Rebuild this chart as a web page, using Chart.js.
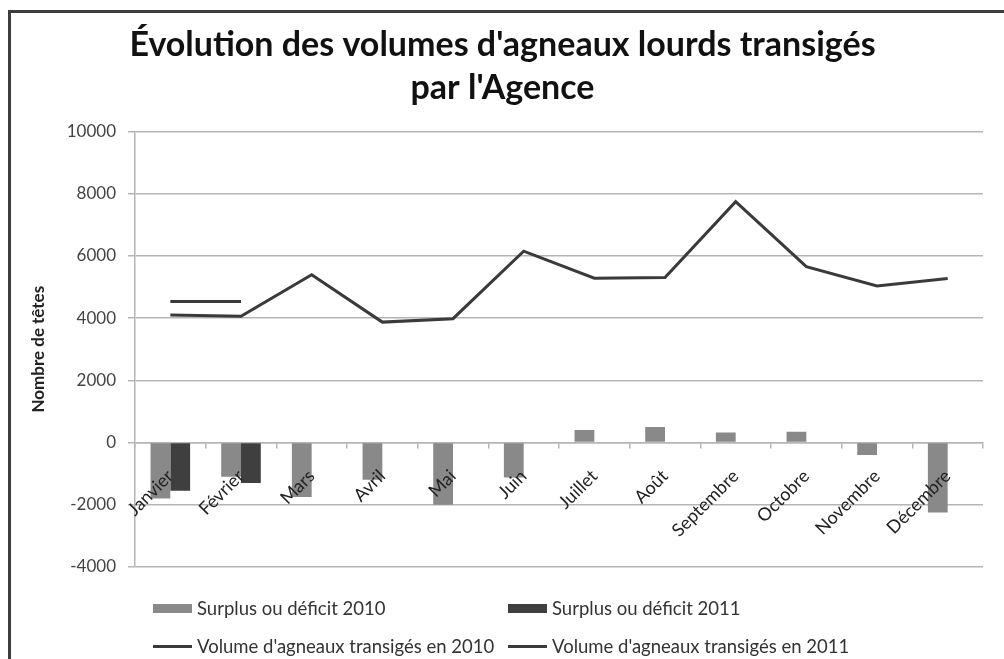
<!DOCTYPE html>
<html lang="fr">
<head>
<meta charset="utf-8">
<title>Évolution des volumes d'agneaux lourds transigés par l'Agence</title>
<script src="https://cdn.jsdelivr.net/npm/chart.js@4.4.1/dist/chart.umd.min.js"></script>
<style>
    html, body { margin: 0; padding: 0; background: #fff; }
    #wrap { position: relative; width: 1004px; height: 659px; overflow: hidden; font-family: Lato, sans-serif; }
    #frame { position: absolute; left: 8px; top: 10px; width: 1100px; height: 700px;
             border-top: 3px solid #3d3d3d; border-left: 3px solid #3d3d3d; }
    #chart { position: absolute; left: 0; top: 0; }
    #legend { position: absolute; left: 153px; top: 597px; display: grid;
              grid-template-columns: 355px auto; row-gap: 16px; font-size: 18.5px; color: #333; }
    .item { display: flex; align-items: center; height: 22px; white-space: nowrap; }
    .swatch { width: 39px; margin-right: 5px; }
</style>
</head>
<body>
<div id="wrap">
    <div id="frame"></div>
    <canvas id="chart" width="1004" height="659"></canvas>
    <div id="legend"></div>
</div>
<script>
// données
const mois = ['Janvier', 'Février', 'Mars', 'Avril', 'Mai', 'Juin', 'Juillet', 'Août',
              'Septembre', 'Octobre', 'Novembre', 'Décembre'];
const surplus2010 = [-1800, -1100, -1750, -1200, -2000, -1120, 400, 500, 320, 350, -400, -2250];
const surplus2011 = [-1550, -1300, null, null, null, null, null, null, null, null, null, null];
const volume2010 = [4100, 4060, 5390, 3870, 3980, 6150, 5280, 5300, 7740, 5650, 5030, 5270];
const volume2011 = [4530, 4530, null, null, null, null, null, null, null, null, null, null];
const yTicks = [-4000, -2000, 0, 2000, 4000, 6000, 8000, 10000];

const gris = '#b5b5b5';

const datasets = [
    { type: 'bar', label: 'Surplus ou déficit 2010', data: surplus2010, backgroundColor: '#898989', order: 2 },
    { type: 'bar', label: 'Surplus ou déficit 2011', data: surplus2011, backgroundColor: '#3f3f3f', order: 2 },
    { type: 'line', label: "Volume d'agneaux transigés en 2010", data: volume2010,
      borderColor: '#3a3a3a', borderWidth: 3, pointRadius: 0, tension: 0, order: 1 },
    { type: 'line', label: "Volume d'agneaux transigés en 2011", data: volume2011,
      borderColor: '#3a3a3a', borderWidth: 3, pointRadius: 0, tension: 0, order: 1 }
];

const chart = new Chart(document.getElementById('chart'), {
    type: 'bar',
    data: { labels: mois, datasets: datasets },
    options: {
        responsive: false,
        animation: false,
        layout: { padding: { top: 23, left: 22, right: 21, bottom: 92 } },
        datasets: { bar: { categoryPercentage: 0.56, barPercentage: 1 } },
        plugins: {
            legend: { display: false },
            tooltip: { enabled: false },
            title: {
                display: true,
                text: ["Évolution des volumes d'agneaux lourds transigés", "par l'Agence"],
                color: '#111',
                font: { family: 'Lato', size: 34, weight: 'bold', lineHeight: 1.27 },
                padding: { top: 0, bottom: 22 }
            }
        },
        scales: {
            x: {
                position: { y: 0 },
                offset: true,
                grid: { offset: true, drawOnChartArea: false, tickLength: 5, color: gris, lineWidth: 1.5 },
                border: { color: gris, width: 1.5 },
                ticks: {
                    z: 1, // étiquettes par-dessus les barres
                    minRotation: 45, maxRotation: 45, autoSkip: false, padding: 18,
                    color: '#222', font: { family: 'Lato', size: 18 }
                }
            },
            y: {
                min: -4000,
                max: 10000,
                afterBuildTicks: function(scale) {
                    scale.ticks = yTicks.map(v => ({ value: v }));
                },
                afterFit: function(scale) {
                    scale.width = 113;
                },
                grid: { color: gris, lineWidth: 1.5, tickLength: 7 },
                border: { color: gris, width: 1.5 },
                ticks: {
                    padding: 12, color: '#444', font: { family: 'Lato', size: 17 },
                    callback: function(v) { return String(v); }
                },
                title: {
                    display: true,
                    text: 'Nombre de têtes',
                    color: '#222',
                    font: { family: 'Lato', size: 17, weight: 'bold' },
                    padding: { top: 6, bottom: 0 }
                }
            }
        }
    }
});

// légende en deux colonnes comme l'original
const legend = document.getElementById('legend');
chart.data.datasets.forEach(function(ds) {
    const item = document.createElement('div');
    item.className = 'item';
    const sw = document.createElement('span');
    sw.className = 'swatch';
    if (ds.type === 'bar') {
        sw.style.height = '9px';
        sw.style.background = ds.backgroundColor;
    } else {
        sw.style.height = '3px';
        sw.style.background = ds.borderColor;
    }
    item.appendChild(sw);
    item.appendChild(document.createTextNode(ds.label));
    legend.appendChild(item);
});
</script>
</body>
</html>
